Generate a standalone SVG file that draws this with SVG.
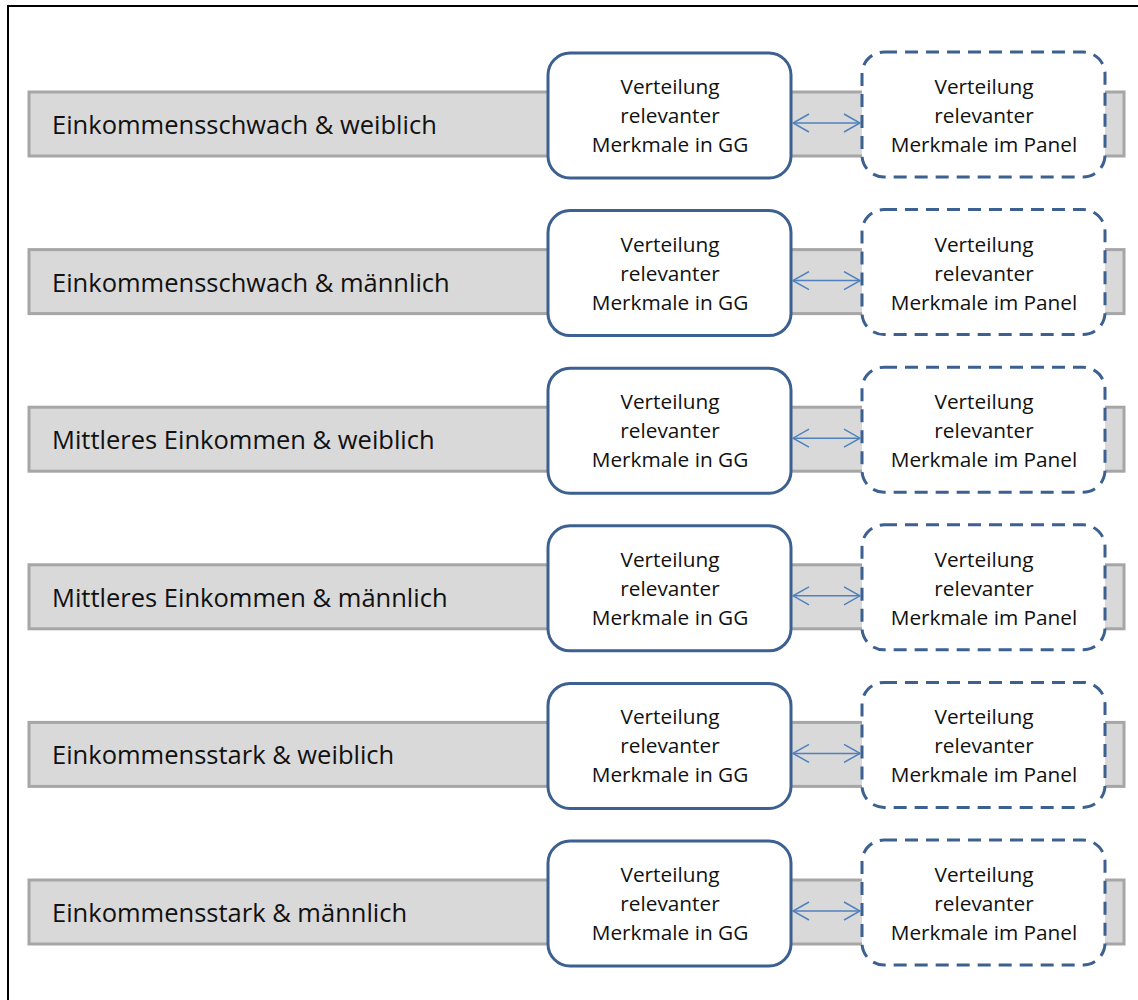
<svg xmlns="http://www.w3.org/2000/svg" width="1138" height="1000" viewBox="0 0 1138 1000">
<defs>
<style>
.frame{fill:none;stroke:#000;stroke-width:2}
.bar{fill:#d9d9d9;stroke:#a6a6a6;stroke-width:3}
.gg{fill:#fff;stroke:#3c6090;stroke-width:3}
.pn{fill:#fff;stroke:#3c6090;stroke-width:3;stroke-dasharray:13 8}
.lbl{font-family:"Open Sans","Liberation Sans",sans-serif;font-size:25.5px;fill:#111}
.bt{font-family:"Open Sans","Liberation Sans",sans-serif;font-size:20.8px;fill:#111;text-anchor:middle}
.con{stroke:#4f81bd;stroke-width:1.5;fill:none;marker-start:url(#ah);marker-end:url(#ah)}
</style>
<marker id="ah" viewBox="0 0 18 20" refX="17" refY="10" markerWidth="18" markerHeight="20" markerUnits="userSpaceOnUse" orient="auto-start-reverse">
<path d="M1,1 L17,10 L1,19" fill="none" stroke="#4f81bd" stroke-width="1.5"/>
</marker>
</defs>
<rect x="0" y="0" width="1138" height="1000" fill="#fff"/>
<rect class="frame" x="8" y="6" width="1140" height="1010"/>

<g id="row1" transform="translate(0,0)">
<rect class="bar" x="29" y="92" width="1095" height="64"/>
<text class="lbl" x="52" y="134">Einkommensschwach &amp; weiblich</text>
<g id="gg1"><rect class="gg" x="548" y="53" width="243" height="125" rx="22"/>
<text class="bt" x="670" y="94">Verteilung</text><text class="bt" x="670" y="123">relevanter</text><text class="bt" x="670" y="152">Merkmale in GG</text></g>
<g id="pn1"><rect class="pn" x="862" y="52" width="243" height="125" rx="22"/>
<text class="bt" x="984" y="94">Verteilung</text><text class="bt" x="984" y="123">relevanter</text><text class="bt" x="984" y="152">Merkmale im Panel</text></g>
</g>

<g id="row2" transform="translate(0,157.6)">
<rect class="bar" x="29" y="92" width="1095" height="64"/>
<text class="lbl" x="52" y="134">Einkommensschwach &amp; männlich</text>
<g id="gg2"><rect class="gg" x="548" y="53" width="243" height="125" rx="22"/>
<text class="bt" x="670" y="94">Verteilung</text><text class="bt" x="670" y="123">relevanter</text><text class="bt" x="670" y="152">Merkmale in GG</text></g>
<g id="pn2"><rect class="pn" x="862" y="52" width="243" height="125" rx="22"/>
<text class="bt" x="984" y="94">Verteilung</text><text class="bt" x="984" y="123">relevanter</text><text class="bt" x="984" y="152">Merkmale im Panel</text></g>
</g>

<g id="row3" transform="translate(0,315.2)">
<rect class="bar" x="29" y="92" width="1095" height="64"/>
<text class="lbl" x="52" y="134">Mittleres Einkommen &amp; weiblich</text>
<g id="gg3"><rect class="gg" x="548" y="53" width="243" height="125" rx="22"/>
<text class="bt" x="670" y="94">Verteilung</text><text class="bt" x="670" y="123">relevanter</text><text class="bt" x="670" y="152">Merkmale in GG</text></g>
<g id="pn3"><rect class="pn" x="862" y="52" width="243" height="125" rx="22"/>
<text class="bt" x="984" y="94">Verteilung</text><text class="bt" x="984" y="123">relevanter</text><text class="bt" x="984" y="152">Merkmale im Panel</text></g>
</g>

<g id="row4" transform="translate(0,472.8)">
<rect class="bar" x="29" y="92" width="1095" height="64"/>
<text class="lbl" x="52" y="134">Mittleres Einkommen &amp; männlich</text>
<g id="gg4"><rect class="gg" x="548" y="53" width="243" height="125" rx="22"/>
<text class="bt" x="670" y="94">Verteilung</text><text class="bt" x="670" y="123">relevanter</text><text class="bt" x="670" y="152">Merkmale in GG</text></g>
<g id="pn4"><rect class="pn" x="862" y="52" width="243" height="125" rx="22"/>
<text class="bt" x="984" y="94">Verteilung</text><text class="bt" x="984" y="123">relevanter</text><text class="bt" x="984" y="152">Merkmale im Panel</text></g>
</g>

<g id="row5" transform="translate(0,630.4)">
<rect class="bar" x="29" y="92" width="1095" height="64"/>
<text class="lbl" x="52" y="134">Einkommensstark &amp; weiblich</text>
<g id="gg5"><rect class="gg" x="548" y="53" width="243" height="125" rx="22"/>
<text class="bt" x="670" y="94">Verteilung</text><text class="bt" x="670" y="123">relevanter</text><text class="bt" x="670" y="152">Merkmale in GG</text></g>
<g id="pn5"><rect class="pn" x="862" y="52" width="243" height="125" rx="22"/>
<text class="bt" x="984" y="94">Verteilung</text><text class="bt" x="984" y="123">relevanter</text><text class="bt" x="984" y="152">Merkmale im Panel</text></g>
</g>

<g id="row6" transform="translate(0,788)">
<rect class="bar" x="29" y="92" width="1095" height="64"/>
<text class="lbl" x="52" y="134">Einkommensstark &amp; männlich</text>
<g id="gg6"><rect class="gg" x="548" y="53" width="243" height="125" rx="22"/>
<text class="bt" x="670" y="94">Verteilung</text><text class="bt" x="670" y="123">relevanter</text><text class="bt" x="670" y="152">Merkmale in GG</text></g>
<g id="pn6"><rect class="pn" x="862" y="52" width="243" height="125" rx="22"/>
<text class="bt" x="984" y="94">Verteilung</text><text class="bt" x="984" y="123">relevanter</text><text class="bt" x="984" y="152">Merkmale im Panel</text></g>
</g>

<g id="connectors">
<line class="con" x1="793" y1="123" x2="860" y2="123"/>
<line class="con" x1="793" y1="280.6" x2="860" y2="280.6"/>
<line class="con" x1="793" y1="438.2" x2="860" y2="438.2"/>
<line class="con" x1="793" y1="595.8" x2="860" y2="595.8"/>
<line class="con" x1="793" y1="753.4" x2="860" y2="753.4"/>
<line class="con" x1="793" y1="911" x2="860" y2="911"/>
</g>
</svg>
